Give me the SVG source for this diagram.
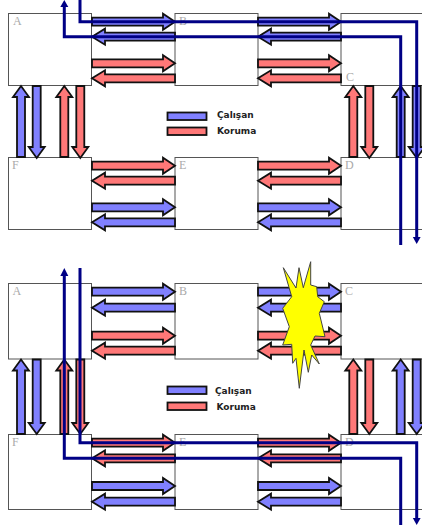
<svg xmlns="http://www.w3.org/2000/svg" width="422" height="531" viewBox="0 0 422 531">
<style>
.box{fill:#fff;stroke:#555;stroke-width:1}
.lb{font:12px "Liberation Serif",serif;fill:#aaa}
.lg{font:bold 9px "DejaVu Sans",sans-serif;fill:#222}
.w{fill:#8080ff;stroke:#111;stroke-width:1.800}
.k{fill:#ff7878;stroke:#111;stroke-width:1.800}
.n{fill:none;stroke:#000085;stroke-width:3}
.t{fill:#000085}
</style>
<defs>
<path id="r" d="M0 -4H71V-8L83 0L71 8V4H0Z"/>
<path id="l" d="M83 -4H13V-8L0 0L13 8V4H83Z"/>
<path id="u" d="M-4 71V11H-8L0 0L8 11H4V71Z"/>
<path id="d" d="M-4 0V61H-8L0 72L8 61H4V0Z"/>
<path id="u2" d="M-4 74.500V11H-8L0 0L8 11H4V74.500Z"/>
<path id="d2" d="M-4 0V63.500H-8L0 74.500L8 63.500H4V0Z"/>
</defs>
<rect width="422" height="531" fill="#fff"/>
<g id="node-a1"><rect class="box" x="8.500" y="13.500" width="83" height="72"/><text class="lb" x="13" y="25">A</text></g>
<g id="node-b1"><rect class="box" x="175" y="13.500" width="83" height="72"/><text class="lb" x="179" y="25">B</text></g>
<g id="node-c1"><rect class="box" x="341" y="13.500" width="83" height="72"/><text class="lb" x="346" y="81">C</text></g>
<g id="node-f1"><rect class="box" x="8.500" y="157.500" width="83" height="72"/><text class="lb" x="12" y="169">F</text></g>
<g id="node-e1"><rect class="box" x="175" y="157.500" width="83" height="72"/><text class="lb" x="179" y="169">E</text></g>
<g id="node-d1"><rect class="box" x="341" y="157.500" width="83" height="72"/><text class="lb" x="345" y="169">D</text></g>
<g id="node-a2"><rect class="box" x="8.500" y="283.500" width="83" height="75.500"/><text class="lb" x="12.500" y="295">A</text></g>
<g id="node-b2"><rect class="box" x="175" y="283.500" width="83" height="75.500"/><text class="lb" x="179" y="295">B</text></g>
<g id="node-c2"><rect class="box" x="341" y="283.500" width="83" height="75.500"/><text class="lb" x="345" y="295">C</text></g>
<g id="node-f2"><rect class="box" x="8.500" y="434.500" width="83" height="75"/><text class="lb" x="12" y="446">F</text></g>
<g id="node-e2"><rect class="box" x="175" y="434.500" width="83" height="75"/><text class="lb" x="179" y="446">E</text></g>
<g id="node-d2"><rect class="box" x="341" y="434.500" width="83" height="75"/><text class="lb" x="345" y="446">D</text></g>
<g id="connectors">
<use href="#r" class="w" x="92" y="21.700"/><use href="#l" class="w" x="92" y="36.700"/><use href="#r" class="k" x="92" y="63.300"/><use href="#l" class="k" x="92" y="78.300"/>
<use href="#r" class="w" x="258" y="21.700"/><use href="#l" class="w" x="258" y="36.700"/><use href="#r" class="k" x="258" y="63.300"/><use href="#l" class="k" x="258" y="78.300"/>
<use href="#r" class="k" x="92" y="165.700"/><use href="#l" class="k" x="92" y="180.700"/><use href="#r" class="w" x="92" y="207.300"/><use href="#l" class="w" x="92" y="222.300"/>
<use href="#r" class="k" x="258" y="165.700"/><use href="#l" class="k" x="258" y="180.700"/><use href="#r" class="w" x="258" y="207.300"/><use href="#l" class="w" x="258" y="222.300"/>
<use href="#u" class="w" x="21" y="86"/><use href="#d" class="w" x="36.700" y="86"/><use href="#u" class="k" x="64.300" y="86"/><use href="#d" class="k" x="80.300" y="86"/>
<use href="#u" class="k" x="353.300" y="86"/><use href="#d" class="k" x="369.300" y="86"/><use href="#u" class="w" x="400.700" y="86"/><use href="#d" class="w" x="416.700" y="86"/>
<use href="#r" class="w" x="92" y="291.700"/><use href="#l" class="w" x="92" y="307.700"/><use href="#r" class="k" x="92" y="335.700"/><use href="#l" class="k" x="92" y="350.700"/>
<use href="#r" class="w" x="258" y="291.700"/><use href="#l" class="w" x="258" y="307.700"/><use href="#r" class="k" x="258" y="335.700"/><use href="#l" class="k" x="258" y="350.700"/>
<use href="#r" class="k" x="92" y="442.700"/><use href="#l" class="k" x="92" y="458.300"/><use href="#r" class="w" x="92" y="486"/><use href="#l" class="w" x="92" y="501.700"/>
<use href="#r" class="k" x="258" y="442.700"/><use href="#l" class="k" x="258" y="458.300"/><use href="#r" class="w" x="258" y="486"/><use href="#l" class="w" x="258" y="501.700"/>
<use href="#u2" class="w" x="21" y="359.500"/><use href="#d2" class="w" x="36.700" y="359.500"/><use href="#u2" class="k" x="64.300" y="359.500"/><use href="#d2" class="k" x="80.300" y="359.500"/>
<use href="#u2" class="k" x="353.300" y="359.500"/><use href="#d2" class="k" x="369.300" y="359.500"/><use href="#u2" class="w" x="400.700" y="359.500"/><use href="#d2" class="w" x="416.700" y="359.500"/>
<path class="n" d="M80 0V21.700H416.700V238"/><path class="t" d="M412.800 237H420.600L416.700 244Z"/>
<path class="n" d="M64.300 6V36.700H400.700V245"/><path class="t" d="M60.300 7H68.300L64.300 0Z"/>
<path class="n" d="M64.300 275V458.300H400.700V525"/><path class="t" d="M60.300 276H68.300L64.300 268Z"/>
<path class="n" d="M80 268V442.700H416.700V519"/><path class="t" d="M412.800 518H420.600L416.700 525Z"/>
</g>
<path id="burst" d="M283.300 267.700L296 288L299 267.700L303.300 287.700L310.700 261.700L310.700 285L316.700 286.700L317.700 296.700L324.300 301.700L319.300 313.300L325 336.700L315 336L310.700 345L319.300 364L311.700 355L308.300 372.300L304 350L299.300 388.300L296 358.300L292.700 363.300L291.700 344.300L282.700 345L289.300 326.700L282.700 308.300L291.700 296.700Z" fill="#ffff00" stroke="#444" stroke-width="1"/>
<g id="legend1"><rect class="w" x="167.500" y="112.500" width="39" height="7.500"/><rect class="k" x="167.500" y="127.500" width="39" height="7.500"/><text class="lg" x="217" y="118">Çalışan</text><text class="lg" x="217" y="134">Koruma</text></g>
<g id="legend2"><rect class="w" x="167.500" y="386.500" width="39" height="7.500"/><rect class="k" x="167.500" y="402.500" width="39" height="7.500"/><text class="lg" x="215" y="393.500">Çalışan</text><text class="lg" x="216.500" y="409.500">Koruma</text></g>
</svg>
